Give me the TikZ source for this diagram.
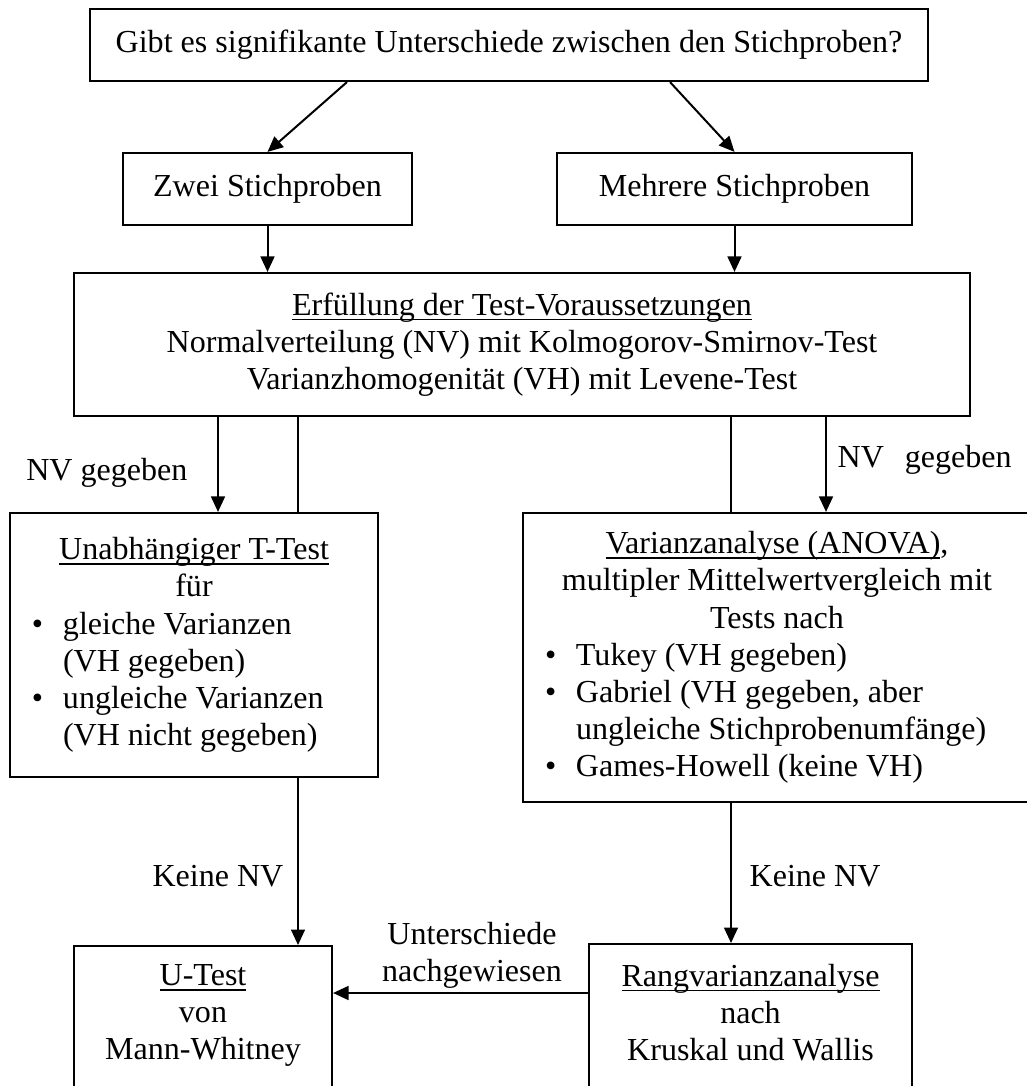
\documentclass[tikz,border=0pt]{standalone}
\usepackage{fontspec}
\setmainfont{Liberation Serif}
\usetikzlibrary{arrows.meta,positioning}

\newlength\px
\setlength\px{0.3745pt}
\newcommand{\unterstr}[1]{\leavevmode\setbox0\hbox{#1}\rlap{\rule[-1.9pt]{\wd0}{0.6pt}}\box0}
\newcommand{\pkt}[1]{\makebox[\hsize][l]{\hspace*{22\px}\makebox[31\px][l]{\textbullet}#1}}
\newcommand{\weiter}[1]{\makebox[\hsize][l]{\hspace*{53\px}#1}}
\newcommand{\mitte}[1]{\makebox[\hsize]{#1}}

\begin{document}
\begin{tikzpicture}[x=0.3745pt, y=-0.3745pt,
    >={Triangle[length=5.8pt,width=5.2pt]},
    every node/.style={font=\fontsize{12}{13.9}\selectfont},
    kasten/.style={draw, line width=0.8pt, inner sep=0pt, align=center},
    lbl/.style={align=center, inner sep=4pt}]

    \useasboundingbox (0,0) rectangle (1026,1086);

    \node[kasten, minimum width=838\px, minimum height=72\px] (frage) at (509,45) {Gibt es signifikante Unterschiede zwischen den Stichproben?};
    \node[kasten, minimum width=289\px, minimum height=72\px] (zwei) at (267.5,189) {Zwei Stichproben};
    \node[kasten, minimum width=355\px, minimum height=72\px] (mehrere) at (734.5,189) {Mehrere Stichproben};
    \node[kasten, minimum width=896\px, minimum height=143\px] (vorauss) at (522,344.5) {\unterstr{Erfüllung der Test-Voraussetzungen}\\ Normalverteilung (NV) mit Kolmogorov-Smirnov-Test\\ Varianzhomogenität (VH) mit Levene-Test};

    \node[kasten, minimum height=264\px] (ttest) at (194,645) {\parbox{368\px}{\mitte{\unterstr{Unabhängiger T-Test}}\\ \mitte{für}\\ \pkt{gleiche Varianzen}\\ \weiter{(VH gegeben)}\\ \pkt{ungleiche Varianzen}\\ \weiter{(VH nicht gegeben)}}};
    \node[kasten, minimum height=289\px] (anova) at (777,657.5) {\parbox{508\px}{\mitte{\unterstr{Varianzanalyse (ANOVA)},}\\ \mitte{multipler Mittelwertvergleich mit}\\ \mitte{Tests nach}\\ \pkt{Tukey (VH gegeben)}\\ \pkt{Gabriel (VH gegeben, aber}\\ \weiter{ungleiche Stichprobenumfänge)}\\ \pkt{Games-Howell (keine VH)}}};

    \node[kasten, anchor=north, inner ysep=7pt] (utest) at (203,945) {\parbox[t][60pt][t]{258\px}{\centering\unterstr{U-Test}\\ von\\ Mann-Whitney}};
    \node[kasten, anchor=north, inner ysep=7.5pt] (rang) at (750.5,943) {\parbox[t][60pt][t]{323\px}{\centering\unterstr{Rangvarianzanalyse}\\ nach\\ Kruskal und Wallis}};

    % Spuren der senkrechten Pfeile
    \coordinate (nvl) at (218,0);
    \coordinate (kl) at (298,0);
    \coordinate (kr) at (731,0);
    \coordinate (nvr) at (826,0);
    \coordinate (quer) at ([yshift=-50\px]rang.north west);

    \path[->, line width=0.75pt]
        ([xshift=-162\px]frage.south) edge (zwei.north)
        ([xshift=161\px]frage.south) edge (mehrere.north)
        (zwei.south) edge (zwei.south |- vorauss.north)
        (mehrere.south) edge (mehrere.south |- vorauss.north)
        (vorauss.south -| nvl) edge node[lbl, left, xshift=-19\px, yshift=-8.5\px] {NV gegeben} (ttest.north -| nvl)
        (vorauss.south -| nvr) edge node[lbl, right, yshift=4.5\px] {NV\hspace{0.65em}gegeben} (anova.north -| nvr)
        (ttest.south -| kl) edge node[lbl, left, xshift=-3\px, yshift=-15\px] {Keine NV} (utest.north -| kl)
        (anova.south -| kr) edge node[lbl, right, xshift=7\px, yshift=-3.5\px] {Keine NV} (rang.north -| kr)
        (quer) edge node[lbl, above, xshift=11.5\px, yshift=-7\px] {Unterschiede\\ nachgewiesen} (quer -| utest.east);

    \path[line width=0.75pt]
        (vorauss.south -| kl) edge (ttest.north -| kl)
        (vorauss.south -| kr) edge (anova.north -| kr);

\end{tikzpicture}
\end{document}
